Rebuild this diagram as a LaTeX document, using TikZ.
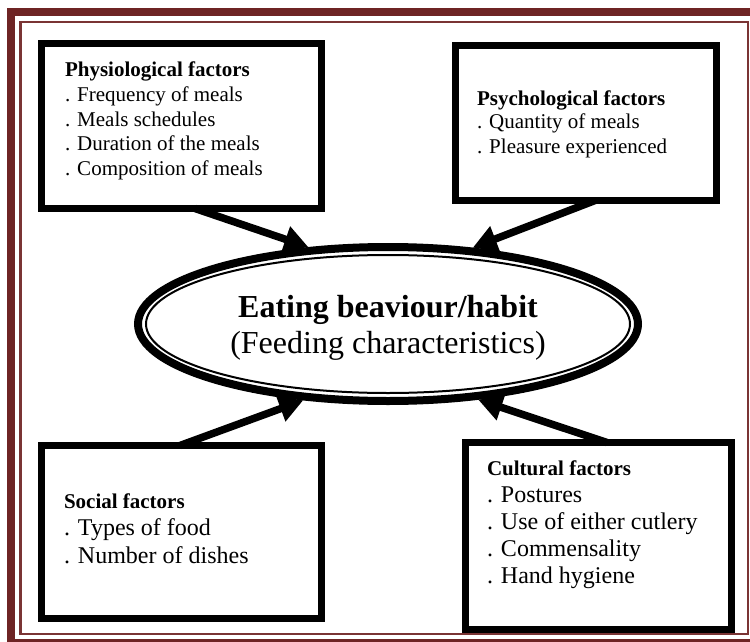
\documentclass[tikz,border=0pt]{standalone}
\usepackage{fontspec}
\setmainfont{Liberation Serif}
\usetikzlibrary{shapes.geometric,arrows.meta,calc}
\definecolor{framedark}{RGB}{110,36,36}
\definecolor{framelight}{RGB}{122,52,52}
\newcommand\linesv[2]{\vtop{\baselineskip=#1\lineskiplimit=-100pt\lineskip=0pt #2}}
\newcommand\hdline[1]{\hbox{\fontsize{21}{24}\selectfont\bfseries #1}}
\newcommand\smline[1]{\hbox{\fontsize{21}{24}\selectfont #1}}
\newcommand\bgline[1]{\hbox{\fontsize{24}{27}\selectfont #1}}
\begin{document}
\begin{tikzpicture}[x=1pt,y=-1pt,
  factorbox/.style={draw,rectangle,line width=7pt,fill=white,inner sep=0pt,outer sep=0pt},
  boxtext/.style={anchor=base west,inner sep=0pt,outer sep=0pt},
  arr/.style={line width=7.5pt,-{Triangle[length=24pt,width=26pt]}},
  midtext/.style={anchor=base,inner sep=0pt,font=\fontsize{32}{36}\selectfont}]
\useasboundingbox (0,0) rectangle (750,642);
\fill[white] (0,0) rectangle (750,642);
% page border
\draw[framedark,line width=8pt] (11,12) rectangle (756,643);
\draw[framelight,line width=2.5pt] (20.5,22) rectangle (748,634);
% boxes
\node[factorbox,minimum width=280pt,minimum height=165pt] (b1) at (181.5,126) {};
\node[factorbox,minimum width=261pt,minimum height=155pt] (b2) at (586,123) {};
\node[factorbox,minimum width=280pt,minimum height=173pt] (b3) at (181.5,532) {};
\node[factorbox,minimum width=266pt,minimum height=187pt] (b4) at (598.5,536) {};
% box texts
\node[boxtext] (t1) at (65,76.7) {\linesv{24.75pt}{%
  \hdline{Physiological factors}
  \smline{. Frequency of meals}
  \smline{. Meals schedules}
  \smline{. Duration of the meals}
  \smline{. Composition of meals}}};
\node[boxtext] (t2) at (477,105) {\linesv{24pt}{%
  \hdline{Psychological factors}
  \smline{. Quantity of meals}
  \smline{. Pleasure experienced}}};
\node[boxtext] (t3) at (64,508) {\linesv{27.5pt}{%
  \hdline{Social factors}
  \bgline{. Types of food}
  \bgline{. Number of dishes}}};
\node[boxtext] (t4) at (487,475) {\linesv{27.1pt}{%
  \hdline{Cultural factors}
  \bgline{. Postures}
  \bgline{. Use of either cutlery}
  \bgline{. Commensality}
  \bgline{. Hand hygiene}}};
% central ellipse
\node[ellipse,draw,line width=8pt,fill=white,inner sep=0pt,outer sep=4pt,
      minimum width=500pt,minimum height=154pt] (ell) at (388,324) {};
\draw[line width=2pt] (ell.center) ellipse [x radius=242pt,y radius=69pt];
\node[midtext] (etitle) at (388,317) {\bfseries Eating beaviour/habit};
\node[midtext] (esub) at (388,353) {(Feeding characteristics)};
% arrows
\draw[arr] ($(b1.south)+(13.5,0)$) -- (ell.136);
\draw[arr] ($(b2.south)+(9,0)$) -- (ell.42);
\draw[arr] ($(b3.north)+(-1.5,0)$) -- (ell.222);
\draw[arr] ($(b4.north)+(8.5,0)$) -- (ell.320);
\end{tikzpicture}
\end{document}
